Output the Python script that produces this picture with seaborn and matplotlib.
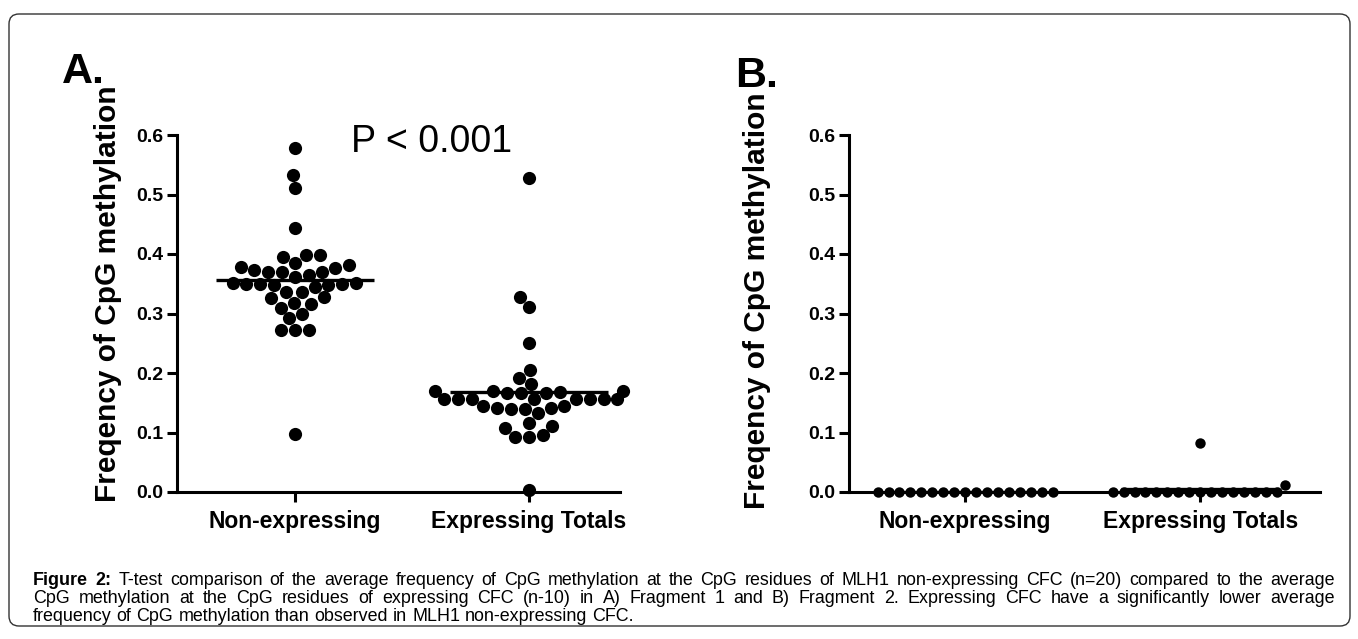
import numpy as np
import pandas as pd
import seaborn as sns
import matplotlib.pyplot as plt
from matplotlib.patches import FancyBboxPatch
from matplotlib.ticker import FormatStrFormatter

groups = ["Non-expressing", "Expressing Totals"]

# fragment 1 (panel A)
frag1_non = [0.578, 0.533, 0.511, 0.444, 0.398, 0.395, 0.398, 0.381, 0.385,
             0.378, 0.376, 0.370, 0.370, 0.370, 0.373, 0.365, 0.362, 0.350,
             0.352, 0.348, 0.350, 0.345, 0.348, 0.352, 0.350, 0.336, 0.336,
             0.327, 0.326, 0.318, 0.310, 0.316, 0.300, 0.292, 0.272, 0.272,
             0.272, 0.097]
frag1_exp = [0.528, 0.328, 0.311, 0.250, 0.205, 0.192, 0.181,
             0.170, 0.170, 0.166, 0.168, 0.166, 0.166, 0.170,
             0.157, 0.157, 0.157, 0.157, 0.157, 0.157, 0.157, 0.157,
             0.145, 0.142, 0.140, 0.140, 0.142, 0.145,
             0.133, 0.116, 0.108, 0.093, 0.093, 0.095, 0.111, 0.003]

# fragment 2 (panel B)
frag2_non = [0.0, 0.0, 0.0, 0.0, 0.0, 0.0, 0.0, 0.0, 0.0, 0.0, 0.0, 0.0,
             0.0, 0.0, 0.0, 0.0, 0.0]
frag2_exp = [0.083, 0.012, 0.0, 0.0, 0.0, 0.0, 0.0, 0.0, 0.0, 0.0, 0.0, 0.0,
             0.0, 0.0, 0.0, 0.0, 0.0, 0.0]

yticks = [0.0, 0.1, 0.2, 0.3, 0.4, 0.5, 0.6]
ylab = "Freqency of CpG methylation"

caption = [
    "Figure 2: T-test comparison of the average frequency of CpG methylation at the CpG residues of MLH1 non-expressing CFC (n=20) compared to the average",
    "CpG methylation at the CpG residues of expressing CFC (n-10) in A) Fragment 1 and B) Fragment 2. Expressing CFC have a significantly lower average",
    "frequency of CpG methylation than observed in MLH1 non-expressing CFC.",
]


def to_df(non, exp):
    return pd.DataFrame({"group": [groups[0]] * len(non) + [groups[1]] * len(exp),
                         "freq": non + exp})


sns.set_style("ticks")
plt.rcParams["font.family"] = ["Liberation Sans", "DejaVu Sans"]
plt.rcParams["font.weight"] = "bold"
for k in ["text.color", "axes.labelcolor", "xtick.color", "ytick.color", "axes.edgecolor"]:
    plt.rcParams[k] = "black"

W, H = 1358, 639
fig = plt.figure(figsize=(W / 100, H / 100), dpi=100)
axA = fig.add_axes([177 / W, 1 - 492 / H, 443 / W, 357 / H])
axB = fig.add_axes([849 / W, 1 - 492 / H, 471 / W, 357 / H])


def panel(ax, df, size, xlim, labx, laby):
    sns.swarmplot(data=df, x="group", y="freq", order=groups, color="black",
                  size=size, ax=ax, clip_on=False, zorder=3)
    means = df.groupby("group")["freq"].mean()
    for i, g in enumerate(groups):
        ax.hlines(means[g], i - 0.337, i + 0.337, color="black", lw=2.4, zorder=4)
    ax.set_xlim(xlim)
    ax.set_ylim(0, 0.6)
    ax.set_yticks(yticks)
    ax.yaxis.set_major_formatter(FormatStrFormatter("%.1f"))
    ax.set_xlabel("")
    ax.set_ylabel(ylab, fontsize=21.5, fontweight="bold", va="center")
    ax.yaxis.set_label_coords(labx, laby)
    sns.despine(ax=ax)
    for s in ["left", "bottom"]:
        ax.spines[s].set_linewidth(2.2)
    ax.tick_params(axis="both", length=7, width=2.2, color="black")
    ax.tick_params(axis="y", labelsize=14, pad=3)
    ax.tick_params(axis="x", labelsize=16.5, pad=6)


panel(axA, to_df(frag1_non, frag1_exp), 9.5, (-0.504, 1.389), -0.156, 0.555)
panel(axB, to_df(frag2_non, frag2_exp), 7.5, (-0.494, 1.51), -0.195, 0.535)

axA.text(0.585, 0.571, "P < 0.001", fontsize=27, fontweight="normal",
         ha="center", va="baseline")

fig.text(62 / W, 1 - 83 / H, "A.", fontsize=31, fontweight="bold", va="baseline")
fig.text(735 / W, 1 - 87 / H, "B.", fontsize=31, fontweight="bold", va="baseline")

# border
fig.patches.append(FancyBboxPatch((0.09, 0.13), 13.41, 6.12,
                                  boxstyle="round,pad=0,rounding_size=0.1",
                                  transform=fig.dpi_scale_trans, fill=False,
                                  edgecolor="#333333", lw=1.0))

# justified caption
x0, x1 = 33, 1335
baselines = [585, 603, 621]
fs = 12.9
renderer = fig.canvas.get_renderer()
for n, (line, yb) in enumerate(zip(caption, baselines)):
    words = line.split(" ")
    texts = []
    for k, w in enumerate(words):
        bold = n == 0 and k < 2
        texts.append(fig.text(0, 1 - yb / H, w, fontsize=fs,
                              fontweight="bold" if bold else "normal",
                              va="baseline", ha="left"))
    widths = [t.get_window_extent(renderer).width for t in texts]
    if n < 2:
        gap = (x1 - x0 - sum(widths)) / (len(words) - 1)
    else:
        gap = fs * 0.278 * 100 / 72
    x = x0
    for t, w in zip(texts, widths):
        t.set_x(x / W)
        x += w + gap

fig.savefig("out.png", dpi=100)
